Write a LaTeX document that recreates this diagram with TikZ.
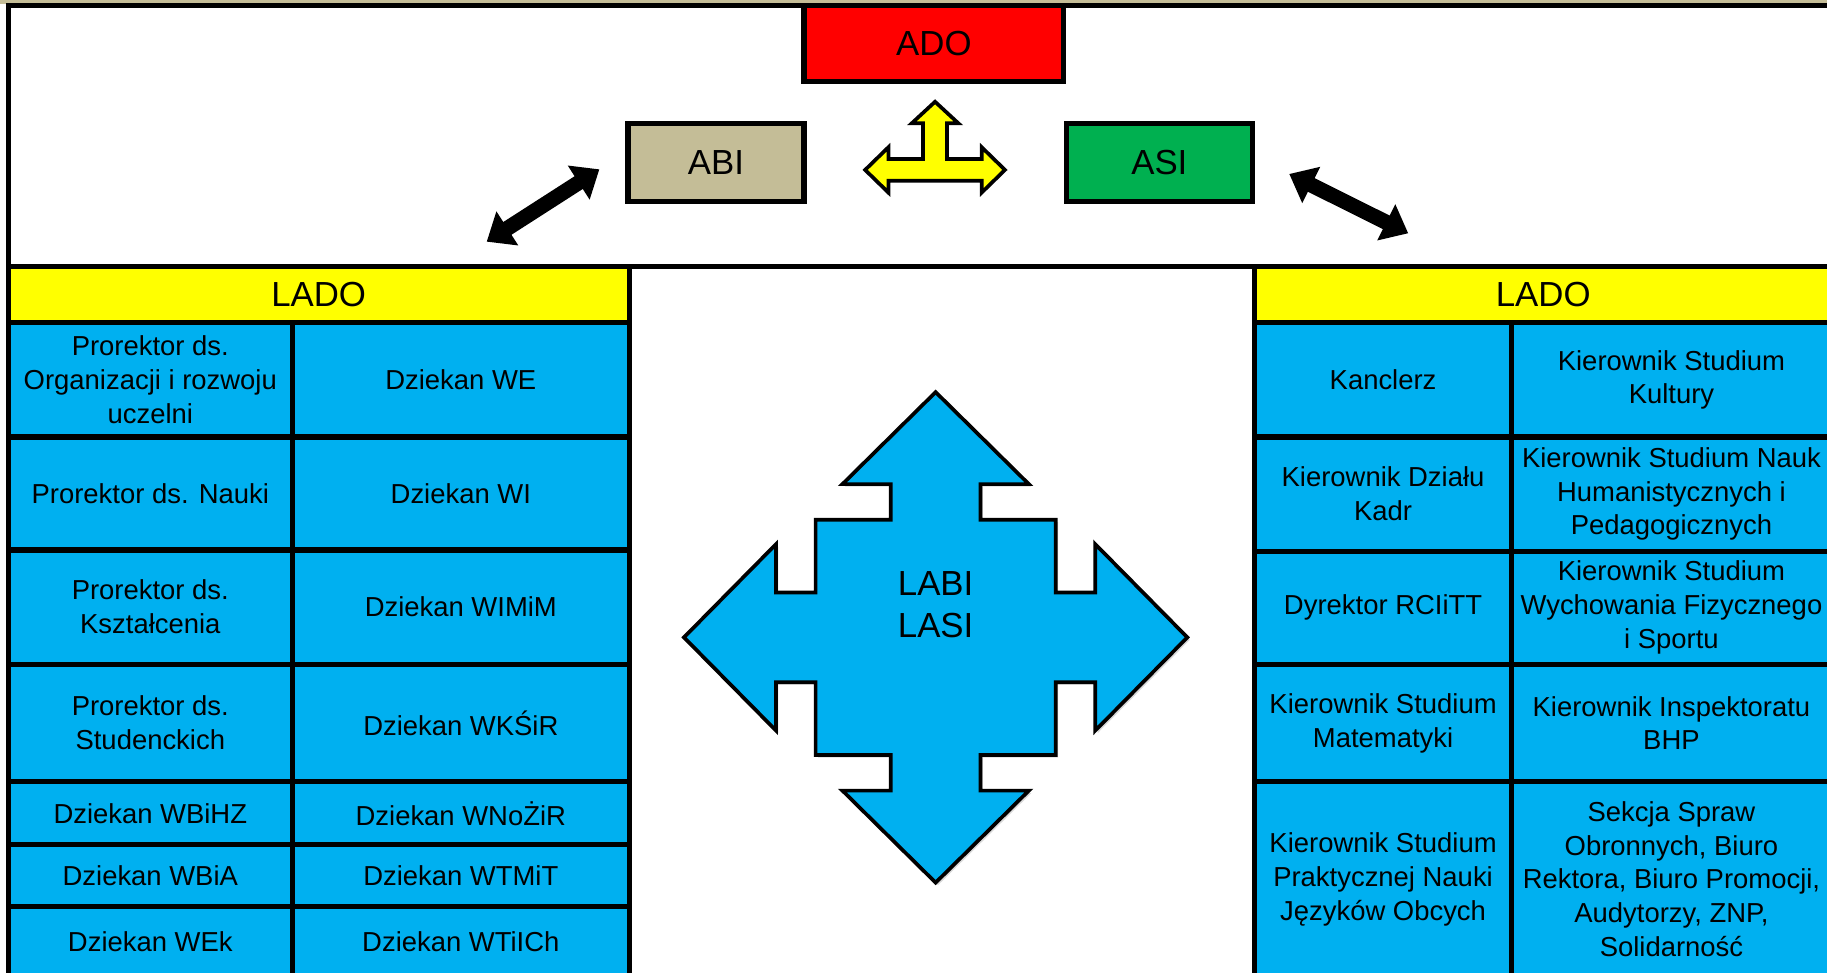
\documentclass[tikz,border=0pt]{standalone}
\usepackage{fontspec}
\setmainfont{Liberation Sans}
\usetikzlibrary{arrows.meta,shadows}
\definecolor{cellblue}{RGB}{0,176,240}
\definecolor{headyellow}{RGB}{255,255,0}
\definecolor{adored}{RGB}{255,0,0}
\definecolor{asigreen}{RGB}{0,176,80}
\definecolor{abitan}{RGB}{196,189,151}

\tikzset{
  box/.style={draw=black, line width=1.25pt, inner sep=0pt, outer sep=0pt,
    font=\fontsize{8.5}{10}\selectfont},
  cell/.style={draw=black, fill=cellblue, line width=1.25pt, inner sep=0pt, outer sep=0pt,
    align=center, font=\fontsize{6.7}{8.25}\selectfont},
  header/.style={cell, fill=headyellow, font=\fontsize{8.5}{10}\selectfont},
  twoway/.style={line width=3.7pt,
    {Triangle[width=9.5pt,length=6pt]}-{Triangle[width=9.5pt,length=6pt]}},
}

\begin{document}
\begin{tikzpicture}[x=0.1mm, y=-0.1mm]
  \useasboundingbox (0,0) rectangle (1568,835);
  \clip (0,0) rectangle (1568,835);

  % top part
  \fill[abitan] (0,0) rectangle (1568,3);
  \draw[line width=1.25pt] (7,4.6) rectangle (1580,228.5);

  \node[box, fill=adored, minimum width=22.3mm, minimum height=6.54mm] (ado) at (801.5,37.3) {ADO};
  \node[box, fill=abitan, minimum width=15.1mm, minimum height=6.7mm] (abi) at (614.5,139.5) {ABI};
  \node[box, fill=asigreen, minimum width=16mm, minimum height=6.7mm] (asi) at (995,139.5) {ASI};

  % three way arrow between ABI, ADO and ASI
  \draw[fill=headyellow, line width=0.9pt, line join=miter, shift={(802.5,145.8)}]
    (0,-58.5) -- (20,-40) -- (10.3,-40) -- (10.3,-9.3) -- (40,-9.3) -- (40,-19.5)
    -- (60,0) -- (40,19.5) -- (40,9.3) -- (-40,9.3) -- (-40,19.5) -- (-60,0)
    -- (-40,-19.5) -- (-40,-9.3) -- (-10.3,-9.3) -- (-10.3,-40) -- (-20,-40) -- cycle;

  \coordinate (abiend) at (514.4,145.3);
  \coordinate (ladoLend) at (417.7,207.4);
  \coordinate (asiend) at (1106.5,149.3);
  \coordinate (ladoRend) at (1208.6,200.2);
  \draw[twoway] (ladoLend) -- (abiend);
  \draw[twoway] (asiend) -- (ladoRend);

  % left table
  \node[header, minimum width=53.3mm, minimum height=4.85mm] (ladoL) at (273.5,252.75) {LADO};
  \node[cell, minimum width=24.4mm, minimum height=9.8mm] (l11) at (129,326) {Prorektor ds.\\Organizacji i rozwoju\\uczelni};
  \node[cell, minimum width=28.9mm, minimum height=9.8mm] (l12) at (395.5,326) {Dziekan WE};
  \node[cell, minimum width=24.4mm, minimum height=9.7mm] (l21) at (129,423.5) {Prorektor ds. Nauki};
  \node[cell, minimum width=28.9mm, minimum height=9.7mm] (l22) at (395.5,423.5) {Dziekan WI};
  \node[cell, minimum width=24.4mm, minimum height=9.8mm] (l31) at (129,521) {Prorektor ds.\\Kształcenia};
  \node[cell, minimum width=28.9mm, minimum height=9.8mm] (l32) at (395.5,521) {Dziekan WIMiM};
  \node[cell, minimum width=24.4mm, minimum height=10.1mm] (l41) at (129,620.5) {Prorektor ds.\\Studenckich};
  \node[cell, minimum width=28.9mm, minimum height=10.1mm] (l42) at (395.5,620.5) {Dziekan WKŚiR};
  \node[cell, minimum width=24.4mm, minimum height=5.4mm] (l51) at (129,698) {Dziekan WBiHZ};
  \node[cell, minimum width=28.9mm, minimum height=5.4mm] (l52) at (395.5,698) {Dziekan WNoŻiR};
  \node[cell, minimum width=24.4mm, minimum height=5.3mm] (l61) at (129,751.5) {Dziekan WBiA};
  \node[cell, minimum width=28.9mm, minimum height=5.3mm] (l62) at (395.5,751.5) {Dziekan WTMiT};
  \node[cell, minimum width=24.4mm, minimum height=6mm] (l71) at (129,808) {Dziekan WEk};
  \node[cell, minimum width=28.9mm, minimum height=6mm] (l72) at (395.5,808) {Dziekan WTiICh};

  % right table
  \node[header, minimum width=49.5mm, minimum height=4.85mm] (ladoR) at (1324.5,252.75) {LADO};
  \node[cell, minimum width=22mm, minimum height=9.8mm] (r11) at (1187,326) {Kanclerz};
  \node[cell, minimum width=27.5mm, minimum height=9.8mm] (r12) at (1434.5,326) {Kierownik Studium\\Kultury};
  \node[cell, minimum width=22mm, minimum height=9.8mm] (r21) at (1187,424) {Kierownik Działu\\Kadr};
  \node[cell, minimum width=27.5mm, minimum height=9.8mm] (r22) at (1434.5,424) {Kierownik Studium Nauk\\Humanistycznych i\\Pedagogicznych};
  \node[cell, minimum width=22mm, minimum height=9.7mm] (r31) at (1187,521.5) {Dyrektor RCIiTT};
  \node[cell, minimum width=27.5mm, minimum height=9.7mm] (r32) at (1434.5,521.5) {Kierownik Studium\\Wychowania Fizycznego\\i Sportu};
  \node[cell, minimum width=22mm, minimum height=10.1mm] (r41) at (1187,620.5) {Kierownik Studium\\Matematyki};
  \node[cell, minimum width=27.5mm, minimum height=10.1mm] (r42) at (1434.5,620.5) {Kierownik Inspektoratu\\BHP};
  \node[cell, minimum width=22mm, minimum height=16.7mm] (r51) at (1187,754.5) {Kierownik Studium\\Praktycznej Nauki\\Języków Obcych};
  \node[cell, minimum width=27.5mm, minimum height=16.7mm] (r52) at (1434.5,754.5) {Sekcja Spraw\\Obronnych, Biuro\\Rektora, Biuro Promocji,\\Audytorzy, ZNP,\\Solidarność};

  % four way arrow in the middle
  \draw[fill=cellblue, line width=0.9pt, line join=miter,
    drop shadow={opacity=0.3, shadow xshift=0.6pt, shadow yshift=-0.6pt},
    shift={(803,547)}]
    (0,-210.5) -- (80,-131.5) -- (38.5,-131.5) -- (38.5,-101) -- (103,-101) -- (103,-38.5)
    -- (137,-38.5) -- (137,-80) -- (216,0) -- (137,80) -- (137,38.5) -- (103,38.5)
    -- (103,101) -- (38.5,101) -- (38.5,131.5) -- (80,131.5) -- (0,210.5) -- (-80,131.5)
    -- (-38.5,131.5) -- (-38.5,101) -- (-103,101) -- (-103,38.5) -- (-137,38.5) -- (-137,80)
    -- (-216,0) -- (-137,-80) -- (-137,-38.5) -- (-103,-38.5) -- (-103,-101) -- (-38.5,-101)
    -- (-38.5,-131.5) -- (-80,-131.5) -- cycle;
  \node[align=center, font=\fontsize{8.5}{10.1}\selectfont] (labi) at (803,519) {LABI\\LASI};
\end{tikzpicture}
\end{document}
